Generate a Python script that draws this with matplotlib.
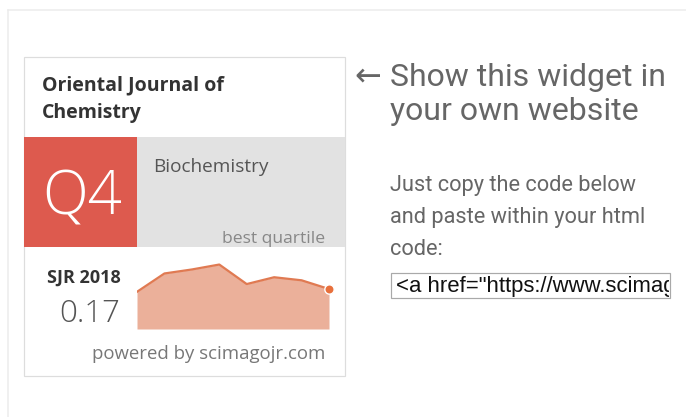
import matplotlib
matplotlib.use("Agg")
import matplotlib.pyplot as plt
from matplotlib.patches import Rectangle

# ---------------- data ----------------
journal_title = ["Oriental Journal of", "Chemistry"]
category = "Biochemistry"
quartile = "Q4"
quartile_label = "best quartile"
sjr_label = "SJR 2018"
sjr_value_text = "0.17"
footer = "powered by scimagojr.com"
years = [2011, 2012, 2013, 2014, 2015, 2016, 2017, 2018]
sjr_values = [0.158, 0.236, 0.253, 0.274, 0.191, 0.220, 0.207, 0.17]
side_title = ["Show this widget in", "your own website"]
side_text = ["Just copy the code below", "and paste within your html", "code:"]
code_snippet = '<a href="https://www.scimag'

W, H = 686, 417
fig = plt.figure(figsize=(W / 100, H / 100), dpi=100)
bg = fig.add_axes([0, 0, 1, 1])
bg.set_xlim(0, W)
bg.set_ylim(H, 0)
bg.axis("off")

PX = 0.72  # 1 px in points

# outer panel border
bg.plot([8, 8], [10, H], color="#ececec", lw=1.5 * PX)
bg.plot([8, W], [10, 10], color="#ececec", lw=1.5 * PX)

# widget frame
bg.add_patch(Rectangle((24, 57), 321, 319, facecolor="white", edgecolor="#dddddd", lw=1.2 * PX))
bg.add_patch(Rectangle((24, 137), 113, 110, facecolor="#dd5a4e", edgecolor="none"))
bg.add_patch(Rectangle((137, 137), 208, 110, facecolor="#e2e2e2", edgecolor="none"))

wfont = ["Open Sans", "DejaVu Sans"]
bg.text(42, 90, journal_title[0], family=wfont, weight="bold", fontsize=14, color="#333333", va="baseline")
bg.text(42, 118, journal_title[1], family=wfont, weight="bold", fontsize=14, color="#333333", va="baseline")
bg.text(42, 214, quartile, family=wfont, weight="light", fontsize=43, color="white", va="baseline")
bg.text(153, 172, category, family=wfont, fontsize=13.7, color="#555555", va="baseline")
bg.text(325, 243, quartile_label, family=wfont, fontsize=12.6, color="#888888", va="baseline", ha="right")
bg.text(47, 283, sjr_label, family=wfont, weight="bold", fontsize=13, color="#333333", va="baseline")
bg.text(120, 322, sjr_value_text, family=wfont, weight="light", fontsize=22.5, color="#555555", va="baseline", ha="right")
bg.text(325, 359, footer, family=wfont, fontsize=13.4, color="#777777", va="baseline", ha="right")

# right side
rfont = ["Roboto", "DejaVu Sans"]
bg.text(354, 85, "\u2190", family=rfont, fontsize=23, color="#666666", va="baseline")
for i, line in enumerate(side_title):
    bg.text(390, 86 + 34 * i, line, family=rfont, fontsize=23, color="#666666", va="baseline")
for i, line in enumerate(side_text):
    bg.text(390, 191 + 32 * i, line, family=rfont, fontsize=15.7, color="#666666", va="baseline")

# code input box
bx0, by0, bx1, by1 = 391, 273, 670, 298
bg.add_patch(Rectangle((bx0, by0), bx1 - bx0, by1 - by0, facecolor="white", edgecolor="#a9a9a9", lw=1.2 * PX))
box_ax = fig.add_axes([(bx0 + 1) / W, 1 - (by1 - 1) / H, (bx1 - bx0 - 2) / W, (by1 - by0 - 2) / H])
box_ax.set_xlim(0, 1)
box_ax.set_ylim(0, 1)
box_ax.axis("off")
box_ax.text(0.015, 0.45, code_snippet, family=["Liberation Sans", "DejaVu Sans"], fontsize=15.9,
            color="#111111", va="center", ha="left", clip_on=True)

# SJR area chart
x0, x1, ybot = 137, 329, 329
ymax = 0.3
px_per_unit = 40 / 0.17
hpx = ymax * px_per_unit
ax = fig.add_axes([x0 / W, (H - ybot) / H, (x1 - x0) / W, hpx / H])
ax.fill_between(years, sjr_values, 0, color="#ebb09a", lw=0)
ax.plot(years, sjr_values, color="#e07a52", lw=1.6)
ax.scatter([years[-1]], [sjr_values[-1]], s=45, color="#e8703c", edgecolor="white", lw=1, zorder=5, clip_on=False)
ax.set_xlim(years[0], years[-1])
ax.set_ylim(0, ymax)
ax.axis("off")

fig.savefig("out.png", dpi=100)
